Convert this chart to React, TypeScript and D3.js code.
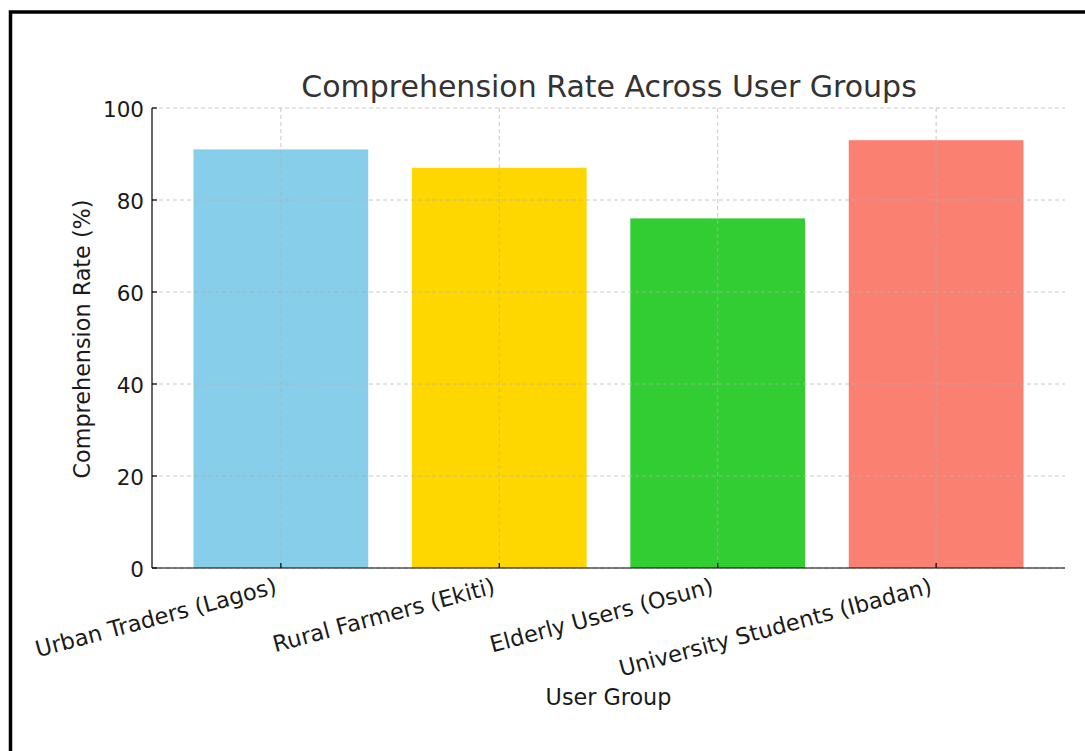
import React from "react";
import * as d3 from "d3";

const categories = [
  "Urban Traders (Lagos)",
  "Rural Farmers (Ekiti)",
  "Elderly Users (Osun)",
  "University Students (Ibadan)",
];
const rates = [91, 87, 76, 93];
const barColors = ["#87CEEB", "#FFD700", "#32CD32", "#FA8072"];
const yTicks = [0, 20, 40, 60, 80, 100];
const titleText = "Comprehension Rate Across User Groups";
const xLabel = "User Group";
const yLabel = "Comprehension Rate (%)";

const W = 1085;
const H = 751;
const FONT = "'DejaVu Sans', sans-serif";

export default function App() {
  const left = 152;
  const right = 1065;
  const top = 108;
  const bottom = 568;

  const idx = categories.map((_, i) => i);
  const x = d3.scaleLinear().domain([-0.59, 3.59]).range([left, right]);
  const y = d3.scaleLinear().domain([0, 100]).range([bottom, top]);
  const barW = x(0.8) - x(0);

  return (
    <svg
      width={W}
      height={H}
      style={{ position: "absolute", left: 0, top: 0, background: "#fff" }}
      fontFamily={FONT}
    >
      <rect x={0} y={0} width={W} height={H} fill="#fff" />
      {/* frame */}
      <rect x={10.5} y={12} width={W + 20} height={H + 20} fill="none" stroke="#000" strokeWidth={3.5} />

      {/* bars */}
      {rates.map((v, i) => (
        <rect
          key={i}
          x={x(idx[i]) - barW / 2}
          y={y(v)}
          width={barW}
          height={y(0) - y(v)}
          fill={barColors[i]}
        />
      ))}

      {/* grid */}
      {yTicks.map((t) => (
        <line
          key={"gy" + t}
          x1={left}
          x2={right}
          y1={y(t)}
          y2={y(t)}
          stroke="#b0b0b0"
          strokeOpacity={0.7}
          strokeWidth={1}
          strokeDasharray="4,3"
        />
      ))}
      {idx.map((i) => (
        <line
          key={"gx" + i}
          x1={x(i)}
          x2={x(i)}
          y1={top}
          y2={bottom}
          stroke="#b0b0b0"
          strokeOpacity={0.7}
          strokeWidth={1}
          strokeDasharray="4,3"
        />
      ))}

      {/* spines */}
      <line x1={left} x2={left} y1={top} y2={bottom} stroke="#000" strokeWidth={1.2} />
      <line x1={left} x2={right} y1={bottom} y2={bottom} stroke="#000" strokeWidth={1.2} />

      {/* y ticks */}
      {yTicks.map((t) => (
        <g key={"yt" + t}>
          <line x1={left} x2={left + 5} y1={y(t)} y2={y(t)} stroke="#000" strokeWidth={1.2} />
          <text
            x={left - 8}
            y={y(t) + 1}
            textAnchor="end"
            dominantBaseline="central"
            fontSize={21.5}
            fill="#1a1a1a"
          >
            {t}
          </text>
        </g>
      ))}

      {/* x ticks */}
      {idx.map((i) => (
        <g key={"xt" + i}>
          <line x1={x(i)} x2={x(i)} y1={bottom} y2={bottom - 5} stroke="#000" strokeWidth={1.2} />
          <text
            transform={`translate(${x(i) - 3},${bottom + 25}) rotate(-15)`}
            textAnchor="end"
            fontSize={22.5}
            fill="#1a1a1a"
          >
            {categories[i]}
          </text>
        </g>
      ))}

      {/* title */}
      <text x={(left + right) / 2 + 0.5} y={97} textAnchor="middle" fontSize={30} fill="#333">
        {titleText}
      </text>

      {/* axis labels */}
      <text x={(left + right) / 2} y={705} textAnchor="middle" fontSize={22.3} fill="#1a1a1a">
        {xLabel}
      </text>
      <text
        transform={`translate(90,${(top + bottom) / 2 + 1}) rotate(-90)`}
        textAnchor="middle"
        fontSize={22.3}
        fill="#1a1a1a"
      >
        {yLabel}
      </text>
    </svg>
  );
}
